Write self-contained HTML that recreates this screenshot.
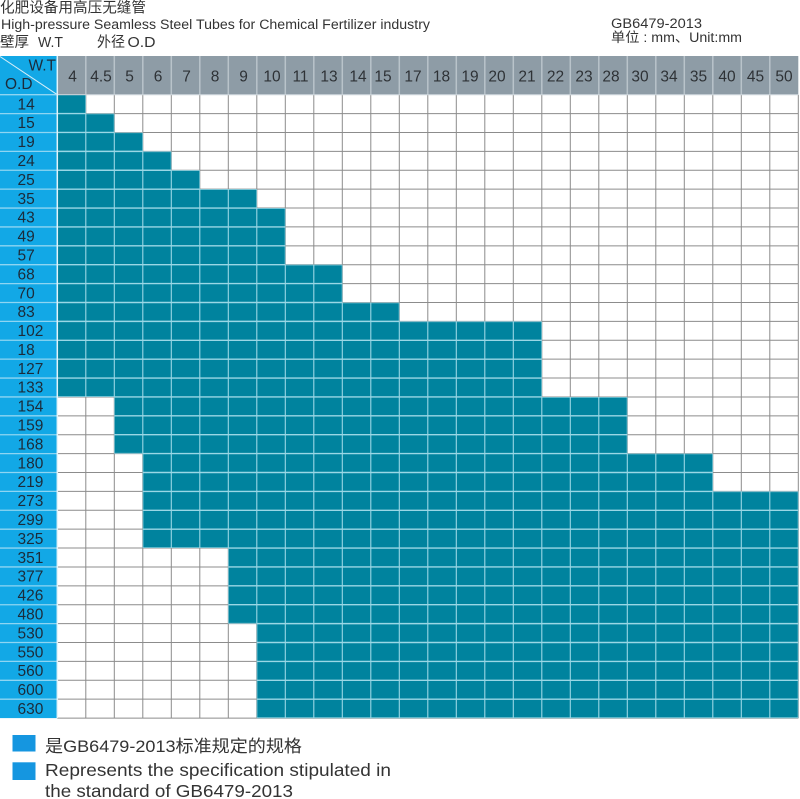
<!DOCTYPE html>
<html><head><meta charset="utf-8"><style>
html,body{margin:0;padding:0;background:#fff;width:800px;height:799px;overflow:hidden}
svg{display:block}
text{font-family:"Liberation Sans","Noto Sans CJK SC",sans-serif}
</style></head><body>
<svg width="800" height="799" viewBox="0 0 800 799" xmlns="http://www.w3.org/2000/svg">
<defs>
<path id="teal" d="M57.3 94.7H85.8V113.59H57.3Z M57.3 113.59H114.3V132.48H57.3Z M57.3 132.48H142.8V151.37H57.3Z M57.3 151.37H171.3V170.26H57.3Z M57.3 170.26H199.8V189.15H57.3Z M57.3 189.15H256.8V208.04H57.3Z M57.3 208.04H285.3V264.71H57.3Z M57.3 264.71H342.3V302.49H57.3Z M57.3 302.49H399.3V321.38H57.3Z M57.3 321.38H541.8V396.94H57.3Z M114.3 396.94H627.3V453.61H114.3Z M142.8 453.61H712.8V491.39H142.8Z M142.8 491.39H798.3V548.06H142.8Z M228.3 548.06H798.3V623.62H228.3Z M256.8 623.62H798.3V718.07H256.8Z"/>
<path id="hl" d="M57.3 113.59H798.3M57.3 132.48H798.3M57.3 151.37H798.3M57.3 170.26H798.3M57.3 189.15H798.3M57.3 208.04H798.3M57.3 226.93H798.3M57.3 245.82H798.3M57.3 264.71H798.3M57.3 283.6H798.3M57.3 302.49H798.3M57.3 321.38H798.3M57.3 340.27H798.3M57.3 359.16H798.3M57.3 378.05H798.3M57.3 396.94H798.3M57.3 415.83H798.3M57.3 434.72H798.3M57.3 453.61H798.3M57.3 472.5H798.3M57.3 491.39H798.3M57.3 510.28H798.3M57.3 529.17H798.3M57.3 548.06H798.3M57.3 566.95H798.3M57.3 585.84H798.3M57.3 604.73H798.3M57.3 623.62H798.3M57.3 642.51H798.3M57.3 661.4H798.3M57.3 680.29H798.3M57.3 699.18H798.3M57.3 718.07H798.3"/>
<path id="vl" d="M85.8 94.7V718.07M114.3 94.7V718.07M142.8 94.7V718.07M171.3 94.7V718.07M199.8 94.7V718.07M228.3 94.7V718.07M256.8 94.7V718.07M285.3 94.7V718.07M313.8 94.7V718.07M342.3 94.7V718.07M370.8 94.7V718.07M399.3 94.7V718.07M427.8 94.7V718.07M456.3 94.7V718.07M484.8 94.7V718.07M513.3 94.7V718.07M541.8 94.7V718.07M570.3 94.7V718.07M598.8 94.7V718.07M627.3 94.7V718.07M655.8 94.7V718.07M684.3 94.7V718.07M712.8 94.7V718.07M741.3 94.7V718.07M769.8 94.7V718.07M798.3 94.7V718.07"/>
<clipPath id="c"><use href="#teal"/></clipPath>
</defs>

<!-- titles -->
<text x="0" y="12.5" font-size="14.5" fill="#333" textLength="146" lengthAdjust="spacingAndGlyphs">化肥设备用高压无缝管</text>
<text x="1" y="29" font-size="13.5" fill="#333" textLength="429" lengthAdjust="spacingAndGlyphs">High-pressure Seamless Steel Tubes for Chemical Fertilizer industry</text>
<text x="0" y="47" font-size="14.5" fill="#333" textLength="29" lengthAdjust="spacingAndGlyphs">壁厚</text>
<text x="38" y="47" font-size="14.5" fill="#333" textLength="25" lengthAdjust="spacingAndGlyphs">W.T</text>
<text x="97" y="47" font-size="14.5" fill="#333" textLength="28" lengthAdjust="spacingAndGlyphs">外径</text>
<text x="127.5" y="47" font-size="14.5" fill="#333" textLength="28" lengthAdjust="spacingAndGlyphs">O.D</text>
<text x="611" y="28" font-size="13.5" fill="#333" textLength="91" lengthAdjust="spacingAndGlyphs">GB6479-2013</text>
<text x="611" y="42" font-size="13.5" fill="#333" textLength="131" lengthAdjust="spacingAndGlyphs">单位 : mm、Unit:mm</text>

<!-- header -->
<rect x="57.3" y="56" width="741" height="38.7" fill="#8e9ca6"/>
<path d="M85.8 56V94.7M114.3 56V94.7M142.8 56V94.7M171.3 56V94.7M199.8 56V94.7M228.3 56V94.7M256.8 56V94.7M285.3 56V94.7M313.8 56V94.7M342.3 56V94.7M370.8 56V94.7M399.3 56V94.7M427.8 56V94.7M456.3 56V94.7M484.8 56V94.7M513.3 56V94.7M541.8 56V94.7M570.3 56V94.7M598.8 56V94.7M627.3 56V94.7M655.8 56V94.7M684.3 56V94.7M712.8 56V94.7M741.3 56V94.7M769.8 56V94.7" stroke="#b9c3ca" stroke-width="1.5"/>
<g font-size="15.5" fill="#2e3236" text-anchor="middle">
<text x="72.5" y="81.5">4</text><text x="101" y="81.5">4.5</text><text x="129.5" y="81.5">5</text><text x="158" y="81.5">6</text><text x="186.5" y="81.5">7</text><text x="215" y="81.5">8</text><text x="243.5" y="81.5">9</text><text x="272" y="81.5">10</text><text x="300.5" y="81.5">11</text><text x="329" y="81.5">13</text><text x="358" y="81.5">14</text><text x="383" y="81.5">15</text><text x="413" y="81.5">17</text><text x="441.5" y="81.5">18</text><text x="470" y="81.5">19</text><text x="497" y="81.5">20</text><text x="527" y="81.5">21</text><text x="555.5" y="81.5">22</text><text x="584" y="81.5">23</text><text x="611" y="81.5">28</text><text x="640" y="81.5">30</text><text x="669" y="81.5">34</text><text x="698.5" y="81.5">35</text><text x="727" y="81.5">40</text><text x="755.5" y="81.5">45</text><text x="784" y="81.5">50</text>
</g>

<!-- corner -->
<rect x="0" y="56" width="57.3" height="38.7" fill="#12a8e6"/>
<line x1="0" y1="56.5" x2="57.3" y2="94.7" stroke="#d6eef8" stroke-width="1"/>
<text x="56" y="70.7" font-size="15.5" fill="#1c2b3a" text-anchor="end">W.T</text>
<text x="5" y="89" font-size="15.5" fill="#1c2b3a">O.D</text>

<!-- grid -->
<rect x="57.3" y="94.7" width="741" height="623.4" fill="#fff"/>
<use href="#hl" stroke="#8c8c8c" stroke-width="1" fill="none"/>
<use href="#vl" stroke="#8c8c8c" stroke-width="1" fill="none"/>
<use href="#teal" fill="#00839e"/>
<g clip-path="url(#c)">
<use href="#hl" stroke="#9ad7e5" stroke-width="1.4" fill="none"/>
<use href="#vl" stroke="#9ad7e5" stroke-width="1.1" fill="none"/>
</g>
<line x1="57.3" y1="94.7" x2="798.3" y2="94.7" stroke="#c9d2d8" stroke-width="1.2"/>

<!-- row labels -->
<rect x="0" y="94.7" width="57.3" height="623.4" fill="#12a8e6"/>
<path d="M0 113.59H57.3M0 132.48H57.3M0 151.37H57.3M0 170.26H57.3M0 189.15H57.3M0 208.04H57.3M0 226.93H57.3M0 245.82H57.3M0 264.71H57.3M0 283.6H57.3M0 302.49H57.3M0 321.38H57.3M0 340.27H57.3M0 359.16H57.3M0 378.05H57.3M0 396.94H57.3M0 415.83H57.3M0 434.72H57.3M0 453.61H57.3M0 472.5H57.3M0 491.39H57.3M0 510.28H57.3M0 529.17H57.3M0 548.06H57.3M0 566.95H57.3M0 585.84H57.3M0 604.73H57.3M0 623.62H57.3M0 642.51H57.3M0 661.4H57.3M0 680.29H57.3M0 699.18H57.3M0 94.7H57.3" stroke="#8fd5f2" stroke-width="1.3"/>
<line x1="57.3" y1="56" x2="57.3" y2="718" stroke="#e4f3f9" stroke-width="1.5"/>
<g font-size="15.5" fill="#1c2b3a">
<text x="17.5" y="109.3">14</text>
<text x="17.5" y="128.2">15</text>
<text x="17.5" y="147.1">19</text>
<text x="17.5" y="166">24</text>
<text x="17.5" y="184.9">25</text>
<text x="17.5" y="203.8">35</text>
<text x="17.5" y="222.7">43</text>
<text x="17.5" y="241.6">49</text>
<text x="17.5" y="260.5">57</text>
<text x="17.5" y="279.4">68</text>
<text x="17.5" y="298.3">70</text>
<text x="17.5" y="317.2">83</text>
<text x="17.5" y="336.1">102</text>
<text x="17.5" y="354.9">18</text>
<text x="17.5" y="373.8">127</text>
<text x="17.5" y="392.7">133</text>
<text x="17.5" y="411.6">154</text>
<text x="17.5" y="430.5">159</text>
<text x="17.5" y="449.4">168</text>
<text x="17.5" y="468.3">180</text>
<text x="17.5" y="487.2">219</text>
<text x="17.5" y="506.1">273</text>
<text x="17.5" y="525">299</text>
<text x="17.5" y="543.9">325</text>
<text x="17.5" y="562.8">351</text>
<text x="17.5" y="581.7">377</text>
<text x="17.5" y="600.6">426</text>
<text x="17.5" y="619.5">480</text>
<text x="17.5" y="638.4">530</text>
<text x="17.5" y="657.3">550</text>
<text x="17.5" y="676.2">560</text>
<text x="17.5" y="695.1">600</text>
<text x="17.5" y="714">630</text>
</g>

<!-- legend -->
<rect x="12.5" y="735" width="23" height="16.5" fill="#1596e0"/>
<rect x="12.5" y="762.3" width="23" height="17.7" fill="#1596e0"/>
<text x="45" y="752" font-size="17" fill="#333" textLength="257" lengthAdjust="spacingAndGlyphs">是GB6479-2013标准规定的规格</text>
<text x="45" y="776" font-size="17.5" fill="#333" textLength="346" lengthAdjust="spacingAndGlyphs">Represents the specification stipulated in</text>
<text x="45" y="797" font-size="17.5" fill="#333" textLength="248" lengthAdjust="spacingAndGlyphs">the standard of GB6479-2013</text>
</svg>
</body></html>
